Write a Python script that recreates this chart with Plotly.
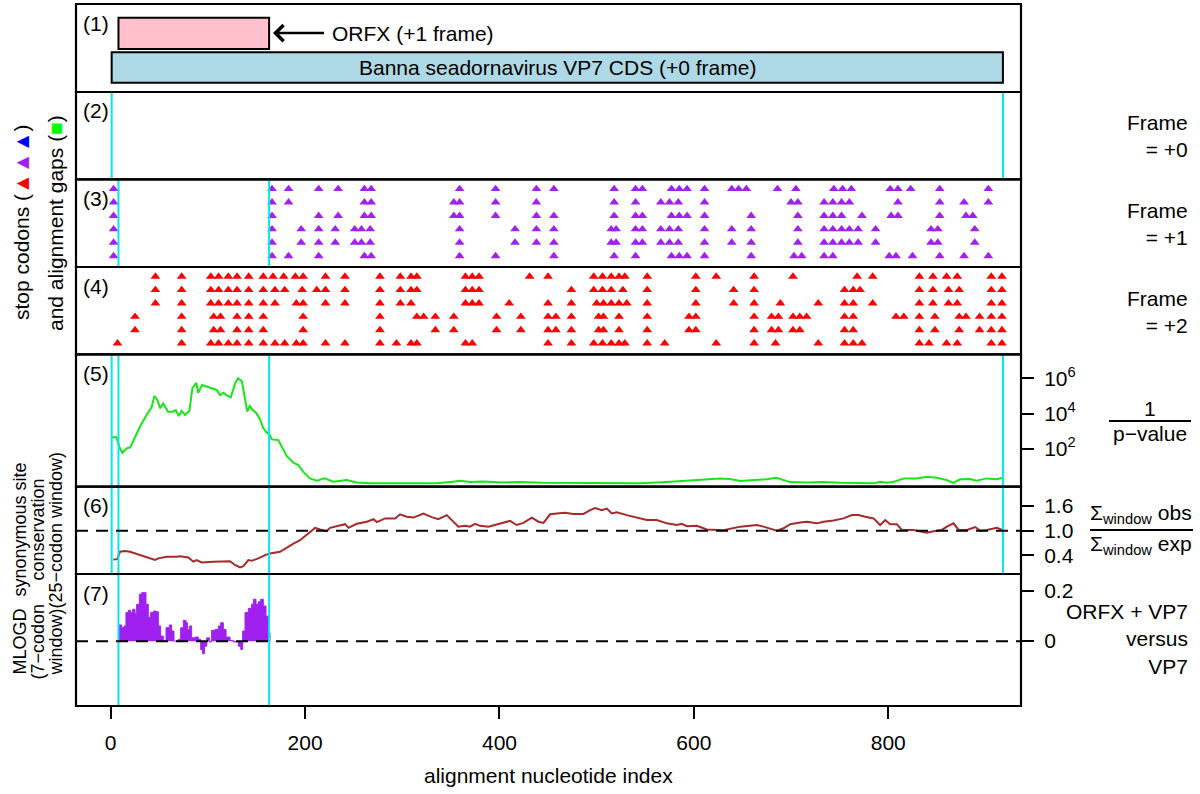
import plotly.graph_objects as go

# ---------------- data ----------------
cds_start, cds_end = 1, 918
orfx_start, orfx_end = 8, 163

x_ticks = [0, 200, 400, 600, 800]

# stop codons, frame +1 (purple), one list per sequence (top to bottom)
frame1_row1 = [3, 166, 183, 214, 234, 261, 268, 359, 396, 438, 456, 518, 540, 547, 577, 585, 593, 611, 639, 646, 654, 686, 705, 744, 753, 762, 802, 810, 823, 853, 903]
frame1_row2 = [3, 166, 183, 261, 268, 353, 359, 396, 438, 518, 540, 566, 575, 584, 611, 700, 707, 734, 743, 752, 760, 810, 853, 878, 903]
frame1_row3 = [3, 166, 214, 234, 261, 268, 353, 359, 396, 438, 456, 518, 540, 547, 577, 585, 593, 611, 659, 707, 734, 743, 752, 773, 803, 810, 853, 880, 887]
frame1_row4 = [3, 166, 196, 214, 231, 251, 258, 267, 359, 416, 438, 456, 515, 520, 540, 547, 566, 575, 584, 611, 639, 659, 707, 734, 743, 752, 760, 769, 787, 844, 851, 889]
frame1_row5 = [3, 166, 196, 214, 231, 251, 258, 267, 359, 416, 438, 456, 515, 520, 540, 547, 566, 575, 584, 611, 639, 659, 707, 734, 743, 752, 760, 769, 787, 844, 851, 889]
frame1_row6 = [3, 166, 183, 214, 261, 268, 359, 396, 456, 518, 540, 577, 585, 593, 611, 659, 703, 711, 734, 743, 801, 808, 825, 853, 878, 903]

# stop codons, frame +2 (red)
frame2_row1 = [46, 73, 103, 111, 121, 130, 142, 157, 167, 178, 190, 198, 221, 241, 277, 298, 309, 315, 365, 372, 379, 431, 450, 497, 506, 515, 523, 529, 552, 602, 623, 662, 702, 768, 784, 832, 846, 860, 871, 906, 917]
frame2_row2 = [46, 73, 103, 111, 121, 130, 142, 157, 169, 179, 197, 212, 221, 241, 277, 298, 309, 315, 365, 372, 379, 474, 497, 506, 515, 527, 552, 602, 641, 662, 755, 764, 771, 832, 846, 862, 873, 906, 917]
frame2_row3 = [46, 73, 103, 111, 121, 130, 142, 157, 169, 191, 198, 221, 241, 277, 298, 309, 365, 372, 379, 410, 450, 474, 500, 507, 515, 523, 531, 552, 602, 641, 662, 689, 728, 755, 764, 784, 832, 846, 862, 871, 906, 917]
frame2_row4 = [25, 73, 106, 113, 130, 142, 157, 198, 277, 315, 322, 334, 353, 397, 422, 450, 458, 474, 502, 507, 523, 552, 595, 602, 662, 680, 687, 702, 709, 716, 755, 764, 808, 816, 832, 848, 873, 880, 894, 906, 917]
frame2_row5 = [25, 73, 106, 113, 130, 142, 157, 198, 277, 334, 353, 397, 422, 450, 458, 474, 502, 507, 523, 552, 595, 602, 662, 680, 687, 702, 709, 755, 764, 832, 848, 873, 894, 906, 917]
frame2_row6 = [7, 73, 103, 111, 121, 130, 142, 157, 169, 179, 191, 198, 221, 241, 277, 294, 309, 315, 365, 372, 450, 474, 497, 506, 515, 523, 529, 552, 570, 623, 662, 684, 728, 755, 764, 773, 832, 842, 860, 871, 906, 917]

# synonymous site conservation: log10(1/p-value)
green_x = [1, 6, 9, 12, 16.5, 20, 25, 31, 38, 42, 45, 48, 51, 54, 59, 64, 67, 70, 73, 76.5,
           81, 84, 88, 90, 94, 99, 104, 109, 112.5, 116, 119, 123.5, 128, 131, 135, 137, 140.5, 143, 146, 150,
           154, 157, 160.5, 163, 166, 172.5, 176, 181, 188, 193, 198, 205, 212, 220, 229, 243, 253, 267, 301, 335,
           352, 359, 370, 383, 404, 421, 445, 466, 476, 545, 572, 593, 613, 627, 637, 648, 662, 675, 685, 699,
           716, 733, 751, 785, 792, 799, 806, 816, 829, 840, 850, 860, 867, 874, 884, 891, 901, 912, 918]
green_log10 = [2.66, 2.66, 2.09, 1.78, 2.03, 2.09, 2.66, 3.35, 4.02, 4.36, 5.0, 4.77, 4.30, 4.58, 4.11, 4.11, 4.2, 3.86, 4.16, 3.92,
               4.16, 5.43, 5.75, 5.18, 5.62, 5.53, 5.43, 5.34, 5.05, 5.18, 5.05, 4.92, 5.71, 6.0, 5.83, 5.24, 4.11, 4.43, 4.22, 4.02,
               3.64, 3.17, 2.92, 2.84, 2.54, 2.5, 2.13, 1.6, 1.22, 1.09, 0.71, 0.33, 0.2, 0.33, 0.14, 0.24, 0.1, 0.05, 0.05, 0.05,
               0.14, 0.2, 0.12, 0.16, 0.1, 0.12, 0.08, 0.08, 0.05, 0.05, 0.12, 0.2, 0.28, 0.33, 0.3, 0.18, 0.24, 0.28, 0.37, 0.12,
               0.1, 0.12, 0.08, 0.05, 0.14, 0.08, 0.14, 0.33, 0.33, 0.42, 0.37, 0.24, 0.08, 0.28, 0.3, 0.2, 0.33, 0.28, 0.37]

# obs / exp ratio
brown_x = [2.7, 6.8, 9.6, 14.7, 19.9, 30.2, 40.5, 45.6, 49, 57.6, 67.9, 71.3, 79.9, 85, 88.4, 93.6, 105.6, 122.8, 127.9, 133.1,
           136.5, 141.6, 145, 151.9, 158.8, 163.9, 174.2, 179.4, 188, 194.8, 201.7, 210.3, 215.4, 222.3, 225.7, 232.6, 241.2, 244.6, 253.2, 263.5,
           270.4, 273.8, 282.3, 292.6, 297.7, 304.6, 311.5, 321.7, 330.3, 337.1, 345.8, 357.7, 364.6, 369.7, 374.9, 380, 388.6, 397.2, 410.9, 417.7,
           424.6, 433.3, 440.1, 445.3, 452.1, 459, 467.5, 476, 486.4, 493.3, 498.4, 505.3, 510.4, 515.6, 520.7, 531, 537.9, 544.7, 551.6, 561.9,
           572.2, 582.5, 587.6, 592.8, 603, 613.4, 630.5, 647.7, 654.5, 664.8, 671.7, 682, 685.4, 692.3, 699.1, 709.4, 716.3, 726.6, 733.4, 743.7,
           754, 762.6, 769.4, 776.3, 784.9, 791.7, 796.9, 802, 808.9, 814, 826, 839.7, 846.6, 855.2, 860.3, 867.2, 872.4, 881, 889.5, 894.7,
           901.5, 911.8, 917]
brown_y = [0.30, 0.31, 0.49, 0.51, 0.49, 0.41, 0.34, 0.29, 0.33, 0.37, 0.37, 0.38, 0.35, 0.25, 0.29, 0.23, 0.25, 0.26, 0.17, 0.11,
           0.14, 0.29, 0.27, 0.33, 0.41, 0.45, 0.49, 0.57, 0.69, 0.77, 0.9, 1.07, 1.03, 0.99, 1.07, 1.11, 1.16, 1.07, 1.17, 1.22,
           1.28, 1.21, 1.3, 1.3, 1.4, 1.34, 1.32, 1.42, 1.33, 1.28, 1.38, 1.1, 1.12, 1.1, 1.17, 1.12, 1.1, 1.15, 1.24, 1.14,
           1.19, 1.32, 1.22, 1.19, 1.4, 1.42, 1.44, 1.41, 1.41, 1.5, 1.55, 1.5, 1.54, 1.42, 1.45, 1.38, 1.34, 1.3, 1.26, 1.26,
           1.18, 1.14, 1.17, 1.11, 1.12, 1.03, 1.01, 1.1, 1.12, 1.14, 1.1, 1.03, 1.0, 1.06, 1.16, 1.2, 1.22, 1.18, 1.22, 1.25,
           1.3, 1.38, 1.38, 1.34, 1.3, 1.14, 1.26, 1.16, 1.16, 1.02, 1.02, 0.95, 0.99, 1.02, 1.1, 1.18, 1.02, 1.02, 1.09, 1.0,
           1.02, 1.07, 1.02]

# MLOGD (7-codon window)
mlogd_x = [7.8, 11.3, 13.7, 15.7, 18.1, 20.5, 22.6, 25, 26.7, 29.5, 31.9, 34.3, 36.3, 38.7, 41.1, 43.9, 46.6, 49, 51.4, 54.1,
           56.9, 60.3, 62.7, 65.1, 69.6, 72, 74.7, 77.5, 78.9, 80.9, 83.3, 86.7, 90.2, 92.6, 94.6, 96.4, 98.8, 101.5, 103.9, 107.4,
           110.8, 113.2, 115.9, 118.7, 122.8, 126.2, 131.4, 133.8, 135.8, 138.2, 141.6, 145, 146.8, 149.5, 151.9, 154.3, 157, 159.8, 162.2, 163.9]
mlogd_y = [0.064, 0.053, 0.06, 0.113, 0.122, 0.113, 0.126, 0.109, 0.146, 0.186, 0.192, 0.192, 0.146, 0.093, 0.113, 0.119, 0.116, 0.06, 0.02, 0.0,
           0.053, 0.064, 0.04, 0.0, 0.007, 0.053, 0.082, 0.073, 0.046, 0.06, 0.013, 0.016, 0.007, -0.033, -0.05, -0.02, 0.013, -0.003, 0.043, 0.046,
           0.06, 0.073, 0.046, 0.016, 0.003, -0.003, -0.02, -0.033, 0.04, 0.113, 0.13, 0.146, 0.166, 0.146, 0.156, 0.166, 0.139, 0.099, 0.033, 0.0]

# ---------------- layout geometry ----------------
W, H = 1200, 794
L, R, T, B = 76, 179, 4, 88
PW, PH = W - L - R, H - T - B
XR = [-35.7, 936.6]
FONT = "Liberation Sans, Arial, Helvetica, sans-serif"
FS = 21
FS_SMALL = 18
CYAN = "#00E8F2"


def px(xpix):
    return (xpix - L) / PW


def py(ypix):
    return (H - B - ypix) / PH


bounds = [4, 92, 179.3, 267, 354.3, 486.7, 574, 706]
domains = [[py(bounds[i + 1]), py(bounds[i])] for i in range(7)]

fig = go.Figure()

frame1_rows = [frame1_row1, frame1_row2, frame1_row3, frame1_row4, frame1_row5, frame1_row6]
fx, fy = [], []
for i, row in enumerate(frame1_rows):
    fx += row
    fy += [6 - i] * len(row)
fig.add_trace(go.Scatter(x=fx, y=fy, mode="markers", xaxis="x3", yaxis="y3",
                         marker=dict(symbol="triangle-up", size=8.5, color="#A020F0", line=dict(width=0)),
                         showlegend=False, hoverinfo="skip"))

frame2_rows = [frame2_row1, frame2_row2, frame2_row3, frame2_row4, frame2_row5, frame2_row6]
fx, fy = [], []
for i, row in enumerate(frame2_rows):
    fx += row
    fy += [6 - i] * len(row)
fig.add_trace(go.Scatter(x=fx, y=fy, mode="markers", xaxis="x4", yaxis="y4",
                         marker=dict(symbol="triangle-up", size=8.5, color="#FF0000", line=dict(width=0)),
                         showlegend=False, hoverinfo="skip"))

fig.add_trace(go.Scatter(x=green_x, y=[10 ** v for v in green_log10], mode="lines", xaxis="x5", yaxis="y5",
                         line=dict(color="#19E619", width=2), showlegend=False, hoverinfo="skip"))

fig.add_trace(go.Scatter(x=brown_x, y=brown_y, mode="lines", xaxis="x6", yaxis="y6",
                         line=dict(color="#A52A2A", width=2), showlegend=False, hoverinfo="skip"))

fig.add_trace(go.Scatter(x=mlogd_x, y=mlogd_y, mode="lines", xaxis="x7", yaxis="y7", fill="tozeroy",
                         fillcolor="#A020F0", line=dict(color="#A020F0", width=1, shape="hv"),
                         showlegend=False, hoverinfo="skip"))

# ---------------- axes ----------------
layout = dict(width=W, height=H, margin=dict(l=L, r=R, t=T, b=B),
              paper_bgcolor="white", plot_bgcolor="white",
              font=dict(family=FONT, size=FS, color="black"), showlegend=False)

for i in range(1, 8):
    xa = dict(domain=[0, 1], range=XR, anchor=f"y{i}", showgrid=False, zeroline=False,
              showline=False, showticklabels=False, ticks="", fixedrange=True)
    if i != 1:
        xa["matches"] = "x"
    if i == 7:
        xa.update(showticklabels=True, ticks="outside", ticklen=12, tickwidth=2, tickcolor="black",
                  tickmode="array", tickvals=x_ticks, ticktext=[str(v) for v in x_ticks],
                  tickfont=dict(size=FS), ticklabelstandoff=6)
    layout["xaxis" if i == 1 else f"xaxis{i}"] = xa

    ya = dict(domain=domains[i - 1], anchor=f"x{i}", showgrid=False, zeroline=False, showline=False,
              showticklabels=False, ticks="", fixedrange=True)
    if i in (1, 2):
        ya["range"] = [0, 1]
    elif i in (3, 4):
        ya["range"] = [0.18, 6.72]
    elif i == 5:
        ya.update(type="log", range=[-0.14, 7.36], side="right", showticklabels=True, ticks="outside",
                  ticklen=12, tickwidth=2, tickcolor="black", tickmode="array",
                  tickvals=[1e2, 1e4, 1e6], ticktext=["10<sup>2</sup>", "10<sup>4</sup>", "10<sup>6</sup>"],
                  tickfont=dict(size=FS), ticklabelstandoff=6)
    elif i == 6:
        ya.update(range=[-0.05, 2.07], side="right", showticklabels=True, ticks="outside",
                  ticklen=12, tickwidth=2, tickcolor="black", tickmode="array",
                  tickvals=[0.4, 1.0, 1.6], ticktext=["0.4", "1.0", "1.6"],
                  tickfont=dict(size=FS), ticklabelstandoff=6)
    elif i == 7:
        ya.update(range=[-0.257, 0.266], side="right", showticklabels=True, ticks="outside",
                  ticklen=12, tickwidth=2, tickcolor="black", tickmode="array",
                  tickvals=[0, 0.2], ticktext=["0", "0.2"],
                  tickfont=dict(size=FS), ticklabelstandoff=6)
    layout["yaxis" if i == 1 else f"yaxis{i}"] = ya

# ---------------- shapes ----------------
shapes = []
shapes.append(dict(type="rect", xref="x", yref="y", x0=cds_start, x1=cds_end, y0=0.106, y1=0.451,
                   fillcolor="#ADD8E6", line=dict(color="black", width=2)))
shapes.append(dict(type="rect", xref="x", yref="y", x0=orfx_start, x1=orfx_end, y0=0.489, y1=0.844,
                   fillcolor="#FFC0CB", line=dict(color="black", width=2)))

cyan_sets = {2: [cds_start, cds_end], 3: [orfx_start, orfx_end],
             5: [cds_start, orfx_start, orfx_end, cds_end], 6: [cds_start, orfx_start, orfx_end, cds_end],
             7: [orfx_start, orfx_end]}
for p, xs in cyan_sets.items():
    for xv in xs:
        shapes.append(dict(type="line", xref=f"x{p}", yref=f"y{p} domain", x0=xv, x1=xv, y0=0, y1=1,
                           line=dict(color=CYAN, width=2)))

shapes.append(dict(type="line", xref="x6 domain", yref="y6", x0=0, x1=1, y0=1.0, y1=1.0,
                   line=dict(color="black", width=2, dash="12px,8px")))
shapes.append(dict(type="line", xref="x7 domain", yref="y7", x0=0, x1=1, y0=0, y1=0,
                   line=dict(color="black", width=2, dash="12px,8px")))

for d in domains:
    shapes.append(dict(type="rect", xref="paper", yref="paper", x0=0, x1=1, y0=d[0], y1=d[1],
                       line=dict(color="black", width=2.2), fillcolor="rgba(0,0,0,0)"))

shapes.append(dict(type="line", xref="paper", yref="paper", x0=px(1109), x1=px(1191), y0=py(421), y1=py(421),
                   line=dict(color="black", width=2)))
shapes.append(dict(type="line", xref="paper", yref="paper", x0=px(1090), x1=px(1193), y0=py(530), y1=py(530),
                   line=dict(color="black", width=2)))
layout["shapes"] = shapes

# ---------------- annotations ----------------
ann = []


def text(x, y, s, xa="center", ya="middle", angle=0, size=FS, align="center"):
    ann.append(dict(x=px(x), y=py(y), xref="paper", yref="paper", text=s, showarrow=False,
                    xanchor=xa, yanchor=ya, textangle=angle, font=dict(size=size), align=align))


for k in range(7):
    text(81, bounds[k] + 19, f"({k + 1})", xa="left")

ann.append(dict(x=167, y=0.67, xref="x", yref="y", ax=221, ay=0.67, axref="x", ayref="y",
                text="", showarrow=True, arrowhead=4, arrowsize=1.2, arrowwidth=2.6, arrowcolor="black"))
text(330, 33, "ORFX (+1 frame)", xa="left")
ann.append(dict(x=(cds_start + cds_end) / 2, y=0.28, xref="x", yref="y",
                text="Banna seadornavirus VP7 CDS (+0 frame)", showarrow=False,
                xanchor="center", yanchor="middle", font=dict(size=FS)))

text(21, 223, "stop codons (<span style='color:#FF0000'>▲</span><span style='color:#A020F0'>▲</span>"
     "<span style='color:#0000FF'>▲</span>)", angle=-90)
text(55, 223, "and alignment gaps (<span style='color:#00FF00'>■</span>)", angle=-90)
text(19.5, 530, "synonymous site", angle=-90, size=FS_SMALL)
text(37.5, 530, "conservation", angle=-90, size=FS_SMALL)
text(55.5, 530, "(25−codon window)", angle=-90, size=FS_SMALL)
text(19.5, 642, "MLOGD", angle=-90, size=FS_SMALL)
text(37.5, 642, "(7−codon", angle=-90, size=FS_SMALL)
text(55.5, 642, "window)", angle=-90, size=FS_SMALL)

text(1190, 136, "Frame<br>= +0", xa="right", align="right")
text(1190, 224, "Frame<br>= +1", xa="right", align="right")
text(1190, 312, "Frame<br>= +2", xa="right", align="right")
text(1150, 409, "1")
text(1150, 433, "p−value")
text(1141, 514, "Σ<sub>window</sub> obs")
text(1141, 545, "Σ<sub>window</sub> exp")
text(1190, 639, "ORFX + VP7<br>versus<br>VP7", xa="right", align="right")

text(548, 775, "alignment nucleotide index")

layout["annotations"] = ann
fig.update_layout(**layout)
fig.write_html("out.html", config={"displayModeBar": False},
               post_script="document.body.style.margin='0px';document.body.style.padding='0px';")
